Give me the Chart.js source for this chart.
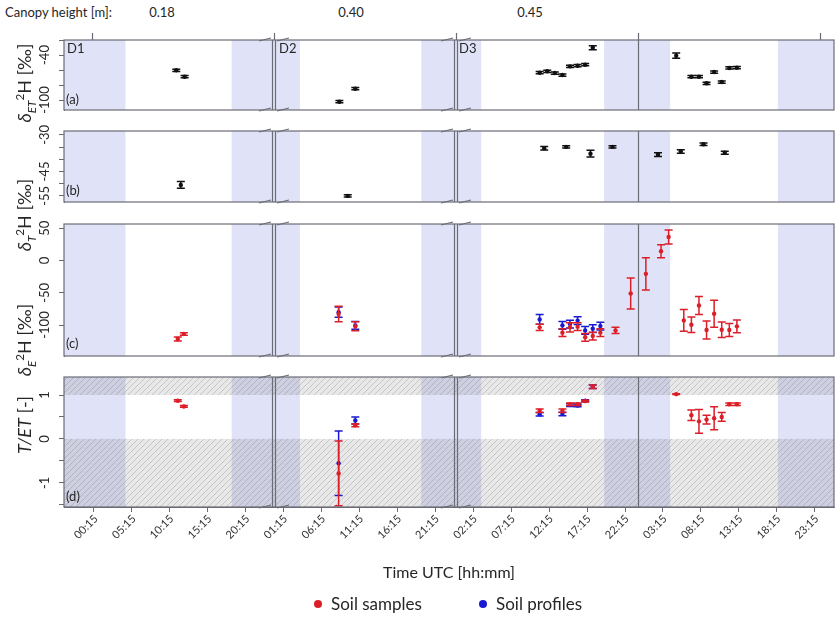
<!DOCTYPE html>
<html>
<head>
<meta charset="utf-8">
<script src="https://cdn.jsdelivr.net/npm/chart.js@4"></script>
<style>
body { margin: 0; background: #fff; font-family: Lato, sans-serif; color: #262626; }
#wrap { position: relative; width: 838px; height: 618px; overflow: hidden; }
canvas { position: absolute; left: 0; }
.t { position: absolute; white-space: nowrap; font-size: 13px; line-height: 16px; }
.c { transform: translateX(-50%); }
.v { position: absolute; white-space: nowrap; font-size: 18px; transform: translate(-50%, -50%) rotate(-90deg); }
sub, sup { font-size: 65%; line-height: 0; }
.lg { position: absolute; font-size: 17px; line-height: 20px; white-space: nowrap; }
.dot { position: absolute; width: 8px; height: 8px; border-radius: 50%; }
</style>
</head>
<body>
<div id="wrap">
  <canvas id="ca" width="838" height="90" style="top:30px"></canvas>
  <canvas id="cb" width="838" height="91" style="top:121px"></canvas>
  <canvas id="cc" width="838" height="152" style="top:214px"></canvas>
  <canvas id="cd" width="838" height="251" style="top:367px"></canvas>

  <div class="t" style="left:5px;top:4px">Canopy height [m]:</div>
  <div class="t c" style="left:162px;top:4px">0.18</div>
  <div class="t c" style="left:351px;top:4px">0.40</div>
  <div class="t c" style="left:530px;top:4px">0.45</div>

  <div class="t" style="left:67px;top:40px">D1</div>
  <div class="t" style="left:279px;top:40px">D2</div>
  <div class="t" style="left:459px;top:40px">D3</div>
  <div class="t" style="left:66px;top:91px">(a)</div>
  <div class="t" style="left:66px;top:182px">(b)</div>
  <div class="t" style="left:66px;top:335px">(c)</div>
  <div class="t" style="left:66px;top:488px">(d)</div>

  <div class="v" style="left:24px;top:83px"><i>δ</i><sub><i>ET</i></sub><sup>2</sup>H [‰]</div>
  <div class="v" style="left:24px;top:215px"><i>δ</i><sub><i>T</i></sub><sup>2</sup>H [‰]</div>
  <div class="v" style="left:24px;top:340px"><i>δ</i><sub><i>E</i></sub><sup>2</sup>H [‰]</div>
  <div class="v" style="left:24px;top:425px"><i>T/ET</i> [-]</div>

  <div class="dot" style="left:314px;top:600px;background:rgb(220,30,40)"></div>
  <div class="lg" style="left:331px;top:594px">Soil samples</div>
  <div class="dot" style="left:479px;top:600px;background:rgb(25,25,210)"></div>
  <div class="lg" style="left:496px;top:594px">Soil profiles</div>
</div>

<script>
// time axis: hours counted from midnight of D1
const tickHours = [0.25, 5.25, 10.25, 15.25, 20.25, 25.25, 30.25, 35.25, 40.25, 45.25,
                   50.25, 55.25, 60.25, 65.25, 70.25, 75.25, 80.25, 85.25, 90.25, 95.25];
const tickLabels = ['00:15', '05:15', '10:15', '15:15', '20:15', '01:15', '06:15', '11:15', '16:15', '21:15',
                    '02:15', '07:15', '12:15', '17:15', '22:15', '03:15', '08:15', '13:15', '18:15', '23:15'];
const dayBreaks = [24, 48];
const midnightLines = [72];
const topTickHours = [0, 24, 48, 72, 96];
const nightStart = [-4, 18.4, 43.4, 67.5, 90.4];
const nightEnd = [4.4, 27.4, 51.3, 76.2, 99];

// (a) delta ET
const etTime = [11.1, 12.2, 32.6, 34.7, 59, 60, 61, 62, 63, 64, 65, 66, 77, 79, 80, 81, 82, 83, 84, 85];
const etValue = [-60.4, -68.9, -102.3, -84.9, -63.6, -61.7, -64, -66.7, -55.1, -54.3, -52.9, -30.3,
                 -40.9, -68.9, -68.9, -77.7, -62.7, -76, -57.3, -56.9];
const etError = [1.5, 1.5, 1.5, 1.5, 1.5, 1.5, 1.5, 1.5, 1.5, 1.5, 1.5, 2.7, 3.5, 1.5, 1.5, 1.5, 1.5, 1.5, 1.5, 1.5];
const aTicks = [-100, -80, -60, -40, -20];
const aTickLabels = ['-100', '', '', '-40', ''];

// (b)
const bTime = [11.7, 33.7, 59.6, 62.5, 65.7, 68.6, 74.6, 77.6, 80.6, 83.4];
const bValue = [-50.5, -55, -35.5, -34.9, -37.7, -34.9, -38.1, -36.8, -33.8, -37.3];
const bError = [1.4, 0.5, 0.7, 0.5, 1.4, 0.5, 0.8, 0.7, 0.5, 0.6];
const bTicks = [-55, -50, -45, -40, -35, -30];
const bTickLabels = ['-55', '', '-45', '', '', '-30'];

// (c) delta T / delta E
const cSampleTime = [11.3, 12.1, 32.5, 34.7, 59, 62, 63, 64, 65, 66, 67, 69, 71, 73, 75, 76, 78, 79, 80, 81, 82, 83, 84, 85];
const cSampleValue = [-121.6, -113.8, -83, -102, -103.6, -111.8, -103.6, -102.5, -119, -117, -111.8, -108.3,
                      -51, -20.6, 14.4, 36.5, -92.8, -99.5, -69.6, -107.7, -82.5, -107.2, -107.7, -102];
const cSampleError = [3, 2, 12, 7, 5, 6, 7, 6, 6, 6, 6, 5, 24, 25, 10, 11, 17, 12, 14, 14, 21, 12, 10, 10];
const cProfileTime = [32.5, 34.7, 59, 62, 63, 64, 65, 66, 67];
const cProfileValue = [-80, -100.5, -91.3, -100.5, -98.4, -93.3, -108.3, -105.6, -101.5];
const cProfileError = [8, 6, 7.5, 6, 6, 6, 6, 6, 6];
const cTicks = [-100, -50, 0, 50];
const cTickLabels = ['-100', '-50', '0', '50'];

// (d) T/ET
const dSampleTime = [11.3, 12.1, 32.5, 34.7, 59, 62, 63, 64, 65, 66, 77, 79, 80, 81, 82, 83, 84, 85];
const dSampleValue = [0.87, 0.74, -0.785, 0.31, 0.64, 0.64, 0.79, 0.79, 0.86, 1.19, 1.02, 0.54, 0.40, 0.44, 0.47, 0.50, 0.79, 0.79];
const dSampleError = [0.02, 0.02, 0.735, 0.03, 0.04, 0.04, 0.03, 0.03, 0.02, 0.04, 0.01, 0.12, 0.27, 0.10, 0.26, 0.10, 0.03, 0.03];
const dProfileTime = [32.5, 34.7, 59, 62, 63, 64, 65, 66];
const dProfileValue = [-0.555, 0.42, 0.56, 0.57, 0.77, 0.76, 0.87, 1.19];
const dProfileError = [0.735, 0.08, 0.04, 0.04, 0.03, 0.03, 0.02, 0.04];
const dTicks = [-1.5, -1, -0.5, 0, 0.5, 1];
const dTickLabels = ['', '-1', '', '0', '', '1'];

const FRAME = '#6c6c76';
const NIGHT = 'rgb(224,227,247)';
const RED = 'rgb(220,30,40)';
const BLUE = 'rgb(25,25,210)';
const BLACK = '#111';
const TEXT = '#262626';

const hatch = document.createElement('canvas');
hatch.width = 6; hatch.height = 6;
(function () {
  const g = hatch.getContext('2d');
  g.strokeStyle = 'rgba(90,90,90,0.35)';
  g.lineWidth = 0.7;
  g.beginPath();
  g.moveTo(0, 6); g.lineTo(6, 0);
  g.moveTo(-1, 1); g.lineTo(1, -1);
  g.moveTo(5, 7); g.lineTo(7, 5);
  g.stroke();
})();

const panelPlugin = {
  id: 'panel',
  beforeDatasetsDraw(chart, args, o) {
    const { ctx, chartArea: a, scales: { x, y } } = chart;
    ctx.save();
    ctx.beginPath(); ctx.rect(a.left, a.top, a.width, a.height); ctx.clip();
    ctx.fillStyle = NIGHT;
    nightStart.forEach((s, i) => {
      const x0 = x.getPixelForValue(s), x1 = x.getPixelForValue(nightEnd[i]);
      ctx.fillRect(x0, a.top, x1 - x0, a.height);
    });
    if (o.hatch) {
      const y1 = y.getPixelForValue(1), y0 = y.getPixelForValue(0);
      const pat = ctx.createPattern(hatch, 'repeat');
      [[a.top, y1], [y0, a.bottom]].forEach(([t, b]) => {
        ctx.fillStyle = 'rgba(120,120,120,0.17)';
        ctx.fillRect(a.left, t, a.width, b - t);
        ctx.fillStyle = pat;
        ctx.fillRect(a.left, t, a.width, b - t);
      });
    }
    ctx.restore();
  },
  beforeDatasetDraw(chart, args) {
    const ds = chart.data.datasets[args.index];
    if (!ds.errors) return;
    const { ctx, scales: { x, y } } = chart;
    ctx.save();
    ctx.strokeStyle = ds.borderColor;
    ctx.lineWidth = 1.5;
    ds.data.forEach((p, i) => {
      const px = x.getPixelForValue(p.x);
      const top = y.getPixelForValue(p.y + ds.errors[i]);
      const bot = y.getPixelForValue(p.y - ds.errors[i]);
      ctx.beginPath();
      ctx.moveTo(px, top); ctx.lineTo(px, bot);
      ctx.moveTo(px - 4, top); ctx.lineTo(px + 4, top);
      ctx.moveTo(px - 4, bot); ctx.lineTo(px + 4, bot);
      ctx.stroke();
    });
    ctx.restore();
  },
  afterDraw(chart, args, o) {
    const { ctx, chartArea: a, scales: { x, y } } = chart;
    ctx.save();
    ctx.strokeStyle = FRAME;
    ctx.lineWidth = 1.2;
    ctx.strokeRect(a.left, a.top, a.width, a.height);
    ctx.beginPath();
    midnightLines.forEach(h => {
      const px = Math.round(x.getPixelForValue(h)) + 0.5;
      ctx.moveTo(px, a.top); ctx.lineTo(px, a.bottom);
    });
    dayBreaks.forEach(h => {
      const px = Math.round(x.getPixelForValue(h));
      ctx.moveTo(px - 1.5, a.top); ctx.lineTo(px - 1.5, a.bottom);
      ctx.moveTo(px + 1.5, a.top); ctx.lineTo(px + 1.5, a.bottom);
      [a.top, a.bottom].forEach(e => {
        ctx.moveTo(px - 15, e + 1); ctx.lineTo(px - 3, e - 2);
        ctx.moveTo(px + 3, e + 1); ctx.lineTo(px + 15, e - 2);
      });
    });
    if (o.topTicks) {
      topTickHours.forEach(h => {
        const px = Math.round(x.getPixelForValue(h)) + 0.5;
        ctx.moveTo(px, a.top); ctx.lineTo(px, a.top - 7);
      });
    }
    ctx.stroke();

    // tick labels, placed through the scales
    ctx.fillStyle = TEXT;
    ctx.font = '13px Lato';
    ctx.textAlign = 'center';
    ctx.textBaseline = 'middle';
    o.yTicks.forEach((v, i) => {
      if (!o.yLabels[i]) return;
      ctx.save();
      ctx.translate(a.left - 19, y.getPixelForValue(v));
      ctx.rotate(-Math.PI / 2);
      ctx.fillText(o.yLabels[i], 0, 0);
      ctx.restore();
    });
    if (o.xLabels) {
      ctx.font = '11px Lato';
      ctx.fillStyle = '#333';
      ctx.textAlign = 'right';
      tickHours.forEach((h, i) => {
        ctx.save();
        ctx.translate(x.getPixelForValue(h) + 2, a.bottom + 10);
        ctx.rotate(-Math.PI / 4);
        ctx.fillText(tickLabels[i], 0, 0);
        ctx.restore();
      });
    }
    ctx.restore();
  }
};

function pts(t, v) { return t.map((h, i) => ({ x: h, y: v[i] })); }

function xAxis(show) {
  const ax = { type: 'linear', min: -3.7, max: 97.8, display: show };
  if (!show) return ax;
  return Object.assign(ax, {
    afterBuildTicks: s => { s.ticks = tickHours.map(v => ({ value: v })); },
    afterFit: s => { s.height = 75; },
    ticks: { display: false },
    grid: { drawOnChartArea: false, tickLength: 5, color: FRAME },
    border: { color: FRAME },
    title: { display: true, text: 'Time UTC [hh:mm]', color: TEXT, font: { family: 'Lato', size: 16 }, padding: 0 }
  });
}

function yAxis(min, max, vals) {
  return {
    type: 'linear', min: min, max: max,
    afterBuildTicks: s => { s.ticks = vals.map(v => ({ value: v })); },
    afterFit: s => { s.width = 64; },
    ticks: { display: false },
    grid: { drawOnChartArea: false, tickLength: 5, color: FRAME },
    border: { color: FRAME }
  };
}

function errSet(label, t, v, e, color) {
  return {
    label: label, data: pts(t, v), errors: e,
    backgroundColor: color, borderColor: color,
    pointRadius: 2.2, pointBorderWidth: 0, showLine: false
  };
}

function makeChart(id, datasets, y, showX, pad, opts) {
  return new Chart(document.getElementById(id), {
    type: 'scatter',
    data: { datasets: datasets },
    options: {
      responsive: false, animation: false, events: [],
      layout: { padding: { left: 0, right: 3, top: pad[0], bottom: pad[1] } },
      scales: { x: xAxis(showX), y: y },
      plugins: { legend: { display: false }, tooltip: { enabled: false }, panel: opts }
    },
    plugins: [panelPlugin]
  });
}

makeChart('ca', [errSet('', etTime, etValue, etError, BLACK)],
  yAxis(-113.3, -20, aTicks), false, [10, 10],
  { topTicks: true, yTicks: aTicks, yLabels: aTickLabels });

makeChart('cb', [errSet('', bTime, bValue, bError, BLACK)],
  yAxis(-57.5, -28.4, bTicks), false, [10, 10],
  { yTicks: bTicks, yLabels: bTickLabels });

makeChart('cc', [errSet('Soil samples', cSampleTime, cSampleValue, cSampleError, RED),
                 errSet('Soil profiles', cProfileTime, cProfileValue, cProfileError, BLUE)],
  yAxis(-148, 56.7, cTicks), false, [10, 10],
  { yTicks: cTicks, yLabels: cTickLabels });

makeChart('cd', [errSet('Soil samples', dSampleTime, dSampleValue, dSampleError, RED),
                 errSet('Soil profiles', dProfileTime, dProfileValue, dProfileError, BLUE)],
  yAxis(-1.55, 1.41, dTicks), true, [10, 36],
  { hatch: true, xLabels: true, yTicks: dTicks, yLabels: dTickLabels });
</script>
</body>
</html>
